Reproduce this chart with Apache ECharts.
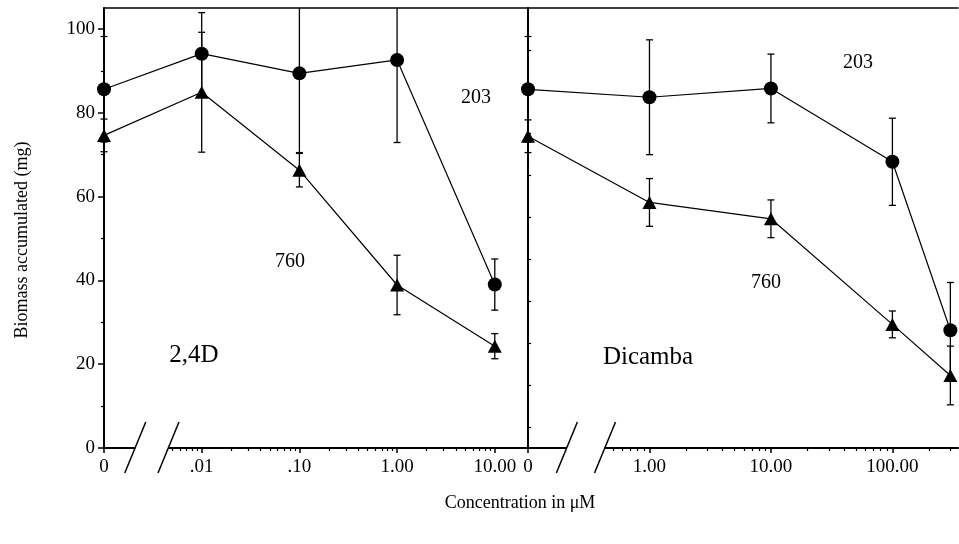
<!DOCTYPE html>
<html>
<head>
<meta charset="utf-8">
<script src="https://cdn.jsdelivr.net/npm/echarts@6/dist/echarts.min.js"></script>
<style>
  html, body { margin: 0; padding: 0; background: #fff; }
  #main { width: 959px; height: 544px; }
</style>
</head>
<body>
<div id="main"></div>
<script>
// concentrations (uM) and biomass (mg), strains 203 and 760
const conc24D = [0, 0.01, 0.1, 1, 10];
const biomass24D_203 = [85.6, 94.1, 89.4, 92.6, 39.0];
const err24D_203 = [12.6, 9.8, 18.9, 19.7, 6.1];
const biomass24D_760 = [74.6, 84.9, 66.3, 38.9, 24.3];
const err24D_760 = [3.9, 14.3, 4.0, 7.1, 3.0];

const concDicamba = [0, 1, 10, 100, 300];
const biomassDic_203 = [85.6, 83.7, 85.8, 68.3, 28.1];
const errDic_203 = [12.6, 13.7, 8.2, 10.4, 11.4];
const biomassDic_760 = [74.4, 58.6, 54.7, 29.5, 17.3];
const errDic_760 = [3.9, 5.7, 4.5, 3.2, 7.0];

const labels24D = ['0', '.01', '.10', '1.00', '10.00'];
const labelsDicamba = ['0', '1.00', '10.00', '100.00'];
const yTicks = [0, 20, 40, 60, 80, 100];
const yMinorTicks = [10, 30, 50, 70, 90];
const yTicksDicamba = [5, 15, 25, 35, 45, 55, 65, 75, 85, 95];

const FONT = 'Liberation Serif';
const Y_MAX = 105;
const X_MAX_LEFT = 4.34;
const X_MAX_RIGHT = 3.54;
const GAP_LEFT = [0.32, 0.66];
const GAP_RIGHT = [0.32, 0.634];

// position on the x axis: "0" sits one decade left of the first dose
function pos24D(c) { return c === 0 ? 0 : Math.log10(c) + 3; }
function posDic(c) { return c === 0 ? 0 : Math.log10(c) + 1; }

function logMinorTicks(expFrom, expTo, toPos, lo, hi) {
  const out = [];
  for (let e = expFrom; e <= expTo; e++) {
    for (let k = 2; k <= 9; k++) {
      const p = toPos(k * Math.pow(10, e));
      if (p > lo && p < hi) out.push(p);
    }
  }
  return out;
}
const minorLeft = logMinorTicks(-3, 0, pos24D, GAP_LEFT[1], 4.2);
const minorRight = logMinorTicks(-1, 2, posDic, GAP_RIGHT[1], X_MAX_RIGHT - 0.02);

function points(conc, vals, toPos) {
  return conc.map((c, i) => [toPos(c), vals[i]]);
}
function errs(conc, vals, e, toPos) {
  return conc.map((c, i) => [toPos(c), vals[i] - e[i], vals[i] + e[i]]);
}

function renderErr(params, api) {
  const x = api.value(0);
  const lo = api.coord([x, api.value(1)]);
  const hi = api.coord([x, api.value(2)]);
  const top = params.coordSys.y;
  const style = { stroke: '#000', lineWidth: 1.3 };
  const kids = [{
    type: 'line',
    shape: { x1: lo[0], y1: lo[1], x2: hi[0], y2: Math.max(hi[1], top) },
    style: style
  }, {
    type: 'line',
    shape: { x1: lo[0] - 3.5, y1: lo[1], x2: lo[0] + 3.5, y2: lo[1] },
    style: style
  }];
  if (hi[1] >= top) {
    kids.push({
      type: 'line',
      shape: { x1: hi[0] - 3.5, y1: hi[1], x2: hi[0] + 3.5, y2: hi[1] },
      style: style
    });
  }
  return { type: 'group', children: kids };
}

function xAxes(gridIndex, max, tickVals, labels, minor) {
  return [{
    gridIndex: gridIndex, type: 'value', position: 'bottom', min: 0, max: max,
    axisLine: { onZero: false, lineStyle: { color: '#000', width: 2 } },
    axisTick: { customValues: tickVals, length: 5, lineStyle: { color: '#000', width: 1.5 } },
    axisLabel: {
      customValues: tickVals, formatter: v => labels[Math.round(v)],
      fontFamily: FONT, fontSize: 19, color: '#000', margin: 10
    },
    splitLine: { show: false }
  }, {
    gridIndex: gridIndex, type: 'value', position: 'bottom', min: 0, max: max,
    axisLine: { show: false, onZero: false },
    axisTick: { customValues: minor, length: 3, lineStyle: { color: '#000', width: 1.2 } },
    axisLabel: { show: false },
    splitLine: { show: false }
  }, {
    gridIndex: gridIndex, type: 'value', position: 'top', min: 0, max: max,
    axisLine: { onZero: false, lineStyle: { color: '#000', width: 1.5 } },
    axisTick: { show: false },
    axisLabel: { show: false },
    splitLine: { show: false }
  }];
}

const chart = echarts.init(document.getElementById('main'));

const option = {
  backgroundColor: '#fff',
  animation: false,
  grid: [
    { left: 104, top: 8, width: 424, height: 440 },
    { left: 528, top: 8, width: 430, height: 440 }
  ],
  xAxis: [].concat(
    xAxes(0, X_MAX_LEFT, [0, 1, 2, 3, 4], labels24D, minorLeft),
    xAxes(1, X_MAX_RIGHT, [0, 1, 2, 3], labelsDicamba, minorRight)
  ),
  yAxis: [{
    gridIndex: 0, type: 'value', position: 'left', min: 0, max: Y_MAX,
    axisLine: { onZero: false, lineStyle: { color: '#000', width: 2 } },
    axisTick: { customValues: yTicks, length: 6, lineStyle: { color: '#000', width: 1.5 } },
    axisLabel: { customValues: yTicks, fontFamily: FONT, fontSize: 19, color: '#000', margin: 9 },
    splitLine: { show: false }
  }, {
    gridIndex: 0, type: 'value', position: 'left', min: 0, max: Y_MAX,
    axisLine: { show: false, onZero: false },
    axisTick: { customValues: yMinorTicks, length: 3, lineStyle: { color: '#000', width: 1.2 } },
    axisLabel: { show: false },
    splitLine: { show: false }
  }, {
    gridIndex: 1, type: 'value', position: 'left', min: 0, max: Y_MAX,
    axisLine: { onZero: false, lineStyle: { color: '#000', width: 2 } },
    axisTick: { customValues: yTicksDicamba, inside: true, length: 3, lineStyle: { color: '#000', width: 1.2 } },
    axisLabel: { show: false },
    splitLine: { show: false }
  }],
  series: [
    { type: 'custom', xAxisIndex: 0, yAxisIndex: 0, renderItem: renderErr, encode: { x: 0, y: [1, 2] },
      data: errs(conc24D, biomass24D_203, err24D_203, pos24D), z: 2 },
    { type: 'custom', xAxisIndex: 0, yAxisIndex: 0, renderItem: renderErr, encode: { x: 0, y: [1, 2] },
      data: errs(conc24D, biomass24D_760, err24D_760, pos24D), z: 2 },
    { type: 'custom', xAxisIndex: 3, yAxisIndex: 2, renderItem: renderErr, encode: { x: 0, y: [1, 2] },
      data: errs(concDicamba, biomassDic_203, errDic_203, posDic), z: 2 },
    { type: 'custom', xAxisIndex: 3, yAxisIndex: 2, renderItem: renderErr, encode: { x: 0, y: [1, 2] },
      data: errs(concDicamba, biomassDic_760, errDic_760, posDic), z: 2 },
    { name: '203', type: 'line', xAxisIndex: 0, yAxisIndex: 0, data: points(conc24D, biomass24D_203, pos24D),
      symbol: 'circle', symbolSize: 14, itemStyle: { color: '#000' },
      lineStyle: { color: '#000', width: 1.2 }, z: 3 },
    { name: '760', type: 'line', xAxisIndex: 0, yAxisIndex: 0, data: points(conc24D, biomass24D_760, pos24D),
      symbol: 'triangle', symbolSize: [14, 13], itemStyle: { color: '#000' },
      lineStyle: { color: '#000', width: 1.2 }, z: 3 },
    { name: '203', type: 'line', xAxisIndex: 3, yAxisIndex: 2, data: points(concDicamba, biomassDic_203, posDic),
      symbol: 'circle', symbolSize: 14, itemStyle: { color: '#000' },
      lineStyle: { color: '#000', width: 1.2 }, z: 3 },
    { name: '760', type: 'line', xAxisIndex: 3, yAxisIndex: 2, data: points(concDicamba, biomassDic_760, posDic),
      symbol: 'triangle', symbolSize: [14, 13], itemStyle: { color: '#000' },
      lineStyle: { color: '#000', width: 1.2 }, z: 3 }
  ]
};

chart.setOption(option);

function label(text, x, y, size, rotation) {
  return {
    type: 'text', x: x, y: y, rotation: rotation || 0, z: 60,
    style: { text: text, fontFamily: FONT, fontSize: size, fill: '#000',
             textAlign: 'center', textVerticalAlign: 'middle' }
  };
}

// axis break marks, placed through the axis scales
function breakMarks(xIdx, yIdx, gap) {
  const a = chart.convertToPixel({ xAxisIndex: xIdx, yAxisIndex: yIdx }, [gap[0], 0]);
  const b = chart.convertToPixel({ xAxisIndex: xIdx, yAxisIndex: yIdx }, [gap[1], 0]);
  const slash = (cx, cy) => ({
    type: 'line', z: 61,
    shape: { x1: cx - 10.5, y1: cy + 25, x2: cx + 10.5, y2: cy - 26 },
    style: { stroke: '#000', lineWidth: 1.5 }
  });
  return [{
    type: 'rect', z: 60,
    shape: { x: a[0], y: a[1] - 3, width: b[0] - a[0], height: 6 },
    style: { fill: '#fff' }
  }, slash(a[0], a[1]), slash(b[0], b[1])];
}

chart.setOption({
  graphic: [
    label('Biomass accumulated (mg)', 22, 240, 18, Math.PI / 2),
    label('Concentration in \u03bcM', 520, 503, 18),
    label('203', 476, 98, 20),
    label('760', 290, 262, 20),
    label('2,4D', 194, 355, 25),
    label('203', 858, 63, 20),
    label('760', 766, 283, 20),
    label('Dicamba', 648, 357, 25)
  ].concat(breakMarks(0, 0, GAP_LEFT), breakMarks(3, 2, GAP_RIGHT))
});
</script>
</body>
</html>
